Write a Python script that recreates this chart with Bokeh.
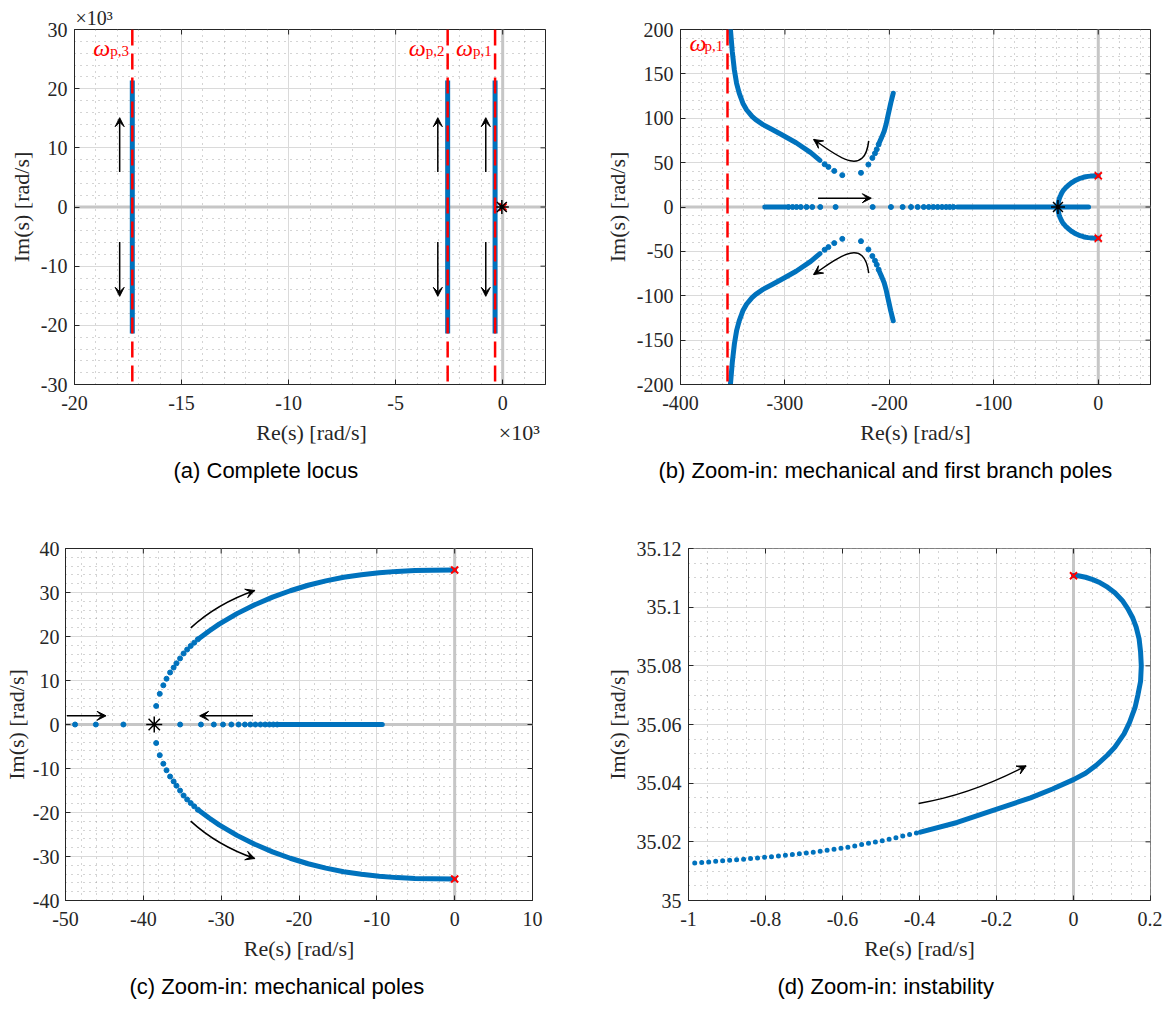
import numpy as np
from bokeh.plotting import figure
from bokeh.layouts import column, row
from bokeh.models import (LinearAxis, SingleIntervalTicker, Grid, Span, Label, Arrow, VeeHead,
                          CustomJSTickFormatter, Range1d, Title)
from bokeh.embed import file_html
from bokeh.resources import INLINE

# ---------------- data ----------------
# (a) complete locus, values in 10^3 rad/s
a_branch_re = [-17.30, -2.57, -0.355]
a_branch_im_top = [21.4, 21.4, 21.4]
a_branch_im_bot = [-21.4, -21.4, -21.4]
a_branch_names = ["p,3", "p,2", "p,1"]
a_arrow_re = [-17.89, -3.03, -0.79]
a_arrow_im_tail = [5.9, 5.9, 5.9]
a_arrow_im_head = [15.1, 15.1, 15.1]
a_zero_re = [-0.0386]
a_zero_im = [0.0]
a_pole_re = [0.0, 0.0]
a_pole_im = [0.03511, -0.03511]

# (b) first branch poles, rad/s
b_wp1_re = -355.0
b_left_solid_re = [-352.2, -350.4, -348.4, -346.3, -343.8, -340.3, -336.8, -331.5, -328.0, -321.0,
                   -312.2, -303.4, -289.3, -275.3, -266.5]
b_left_solid_im = [200.0, 175.0, 154.2, 139.4, 128.2, 117.0, 109.6, 102.1, 98.4, 92.8,
                   87.3, 81.7, 72.4, 61.2, 52.5]
b_left_dots_re = [-262.0, -258.4, -252.8, -245.1]
b_left_dots_im = [48.2, 45.2, 40.7, 35.9]
b_right_dots_re = [-227.2, -220.1, -216.3, -213.8, -212.1, -210.3]
b_right_dots_im = [38.5, 47.8, 55.3, 60.5, 65.0, 70.5]
b_right_solid_re = [-209.5, -207.2, -205.0, -203.2, -201.5, -198.7, -196.3]
b_right_solid_im = [73.0, 79.0, 85.4, 93.0, 102.1, 117.0, 128.2]
b_real_dense1 = [-319.3, -299.1]
b_real_dots = [-296.6, -292.7, -288.9, -284.8, -279.3, -273.9, -266.2, -251.5, -216.0, -198.5,
               -187.3, -179.3, -172.9, -167.1, -162.3, -157.9, -153.7, -149.6, -145.7, -142.2, -138.7]
b_real_dense2 = [-135.0, -9.3]

# mechanical poles (used in b, c)
star_re = -38.6
pole_re = 0.0
pole_im = 35.11
c_real_left_dots = [-48.77, -46.1, -42.56]
c_real_right_dots = [-35.27, -32.6, -30.94, -29.76, -28.69, -27.76, -26.95, -26.25, -25.6,
                     -24.95, -24.35, -23.8, -23.3, -22.8]
c_real_right_solid = [-22.8, -9.3]
mech_dots_re = [-38.35, -37.89, -37.43, -37.02, -36.56, -36.11, -35.74, -35.28, -34.83, -34.37,
                -33.91, -33.46, -33.0]
mech_dots_im = [4.21, 6.97, 8.91, 10.40, 11.82, 12.93, 13.90, 15.02, 16.14, 17.04, 17.86, 18.60, 19.35]
mech_curve_re = [-32.8, -31.5, -30.26, -27.97, -25.69, -23.4, -21.12, -18.83, -16.55, -14.26,
                 -11.98, -9.7, -7.41, -5.1, -2.84, 0.0]
mech_curve_im = [19.6, 21.3, 22.8, 25.2, 27.2, 28.95, 30.4, 31.65, 32.65, 33.45,
                 34.05, 34.5, 34.8, 35.0, 35.08, 35.11]

# (d) instability
d_dot_re = [-0.9838, -0.8742, -0.7789, -0.6836, -0.5883, -0.4930, -0.3976]
d_dot_im = [35.0128, 35.0139, 35.0150, 35.0163, 35.0181, 35.0205, 35.0233]
d_curve_re = [-0.3976, -0.3023, -0.2070, -0.1117, -0.0545, 0.0, 0.0313, 0.0599, 0.0884, 0.1075,
              0.1313, 0.1456, 0.1599, 0.1675, 0.1742, 0.1761, 0.1742, 0.1704, 0.1628, 0.1533,
              0.1409, 0.1266, 0.1075, 0.0884, 0.0694, 0.0503, 0.0313, 0.0122, 0.0]
d_curve_im = [35.0233, 35.0266, 35.0308, 35.0350, 35.0380, 35.0412, 35.0434, 35.0462, 35.0496, 35.0523,
              35.0568, 35.0607, 35.0658, 35.0702, 35.0747, 35.0800, 35.0848, 35.0892, 35.0932, 35.0965,
              35.0995, 35.1023, 35.1049, 35.1068, 35.1083, 35.1094, 35.1102, 35.1107, 35.1108]
d_pole_re = [0.0]
d_pole_im = [35.1107]

# arrows (tail, control points, head)
b_arrow_straight = (-268.3, 9.9, -217.3, 9.9)
b_arrow_curve = (-219.8, 74.6, -224.0, 31.0, -252.5, 59.8, -272.5, 76.1)
c_arrow_straight = [(-49.82, 1.97, -44.79, 1.97), (-25.92, 1.97, -32.77, 1.97)]
c_arrow_curve = (-33.91, 21.96, -30.5, 27.5, -25.69, 30.46)
d_arrow_curve = (-0.4024, 35.0331, -0.2657, 35.0361, -0.1231, 35.0459)

captions = ["(a) Complete locus", "(b) Zoom-in: mechanical and first branch poles",
            "(c) Zoom-in: mechanical poles", "(d) Zoom-in: instability"]
x_label = "Re(s) [rad/s]"
y_label = "Im(s) [rad/s]"
scale_label = "\u00d710\u00b3"

# ---------------- style ----------------
BLUE = "#0072BD"
RED = "#FF0000"
AX = "#262626"
SERIF = "Liberation Serif"
SANS = "Liberation Sans"
TICK_FS = "20px"
LAB_FS = "22px"
CAP_FS = "22px"
EM = "\u2003"


def trim_fmt():
    return CustomJSTickFormatter(code=r"""
if (Math.abs(tick) < 1e-9) { return "0"; }
return tick.toFixed(2).replace(/\.?0+$/, "");
""")


def tick_values(lo, hi, step):
    k0 = int(np.ceil(lo / step - 1e-9))
    k1 = int(np.floor(hi / step + 1e-9))
    return [k * step for k in range(k0, k1 + 1)]


def base_fig(width, height, borders, xr, yr, xint, xmin, yint, ymin, xlab=x_label,
             ylab_std=(7, 4)):
    L, R, T, B = borders
    p = figure(width=width, height=height, x_range=Range1d(*xr), y_range=Range1d(*yr),
               x_axis_type=None, y_axis_type=None, output_backend="svg", toolbar_location=None,
               title=None, min_border_left=L, min_border_right=R, min_border_top=T,
               min_border_bottom=B)
    p.outline_line_color = AX
    p.outline_line_width = 1
    p.background_fill_color = "white"
    p.border_fill_color = "white"
    xt = SingleIntervalTicker(interval=xint, num_minor_ticks=xmin)
    yt = SingleIntervalTicker(interval=yint, num_minor_ticks=ymin)
    for dim, tk in ((0, xt), (1, yt)):
        p.add_layout(Grid(dimension=dim, ticker=tk, grid_line_color="#dadada", grid_line_width=1,
                          minor_grid_line_color="#999999", minor_grid_line_dash="1 5",
                          minor_grid_line_alpha=0.85))
    for place, tk, lab in (("below", xt, xlab), ("left", yt, y_label)):
        ax = LinearAxis(ticker=tk, formatter=trim_fmt())
        ax.major_tick_in = 5
        ax.major_tick_out = 0
        ax.minor_tick_in = 0
        ax.minor_tick_out = 0
        ax.axis_line_color = AX
        ax.major_tick_line_color = AX
        ax.axis_label = lab
        ax.major_label_text_font = SERIF
        ax.major_label_text_font_size = TICK_FS
        ax.major_label_text_color = AX
        ax.axis_label_text_font = SERIF
        ax.axis_label_text_font_size = LAB_FS
        ax.axis_label_text_font_style = "normal"
        ax.axis_label_text_color = AX
        if place == "below":
            ax.major_label_standoff = 11
            ax.axis_label_standoff = 7
        else:
            ax.major_label_standoff = ylab_std[0]
            ax.axis_label_standoff = ylab_std[1]
        p.add_layout(ax, place)
    for dim in ("height", "width"):
        p.add_layout(Span(location=0, dimension=dim, line_color="#c6c6c6", line_width=3,
                          level="underlay"))
    # inward tick marks on the top and right edges of the box (clipped to the frame)
    xtv = tick_values(xr[0], xr[1], xint)
    ytv = tick_values(yr[0], yr[1], yint)
    p.scatter(xtv, [yr[1]] * len(xtv), marker="dash", angle=np.pi / 2, size=10,
              line_color=AX, line_width=1)
    p.scatter([xr[1]] * len(ytv), ytv, marker="dash", size=10, line_color=AX, line_width=1)
    return p


def arrow(p, xs, ys, xe, ye):
    p.add_layout(Arrow(end=VeeHead(size=9, fill_color="black", line_color="black", line_width=1),
                       x_start=xs, y_start=ys, x_end=xe, y_end=ye,
                       line_color="black", line_width=1.5))


def quad_arrow(p, c):
    x0, y0, cx, cy, x1, y1 = c
    p.quadratic(x0=[x0], y0=[y0], x1=[x1], y1=[y1], cx=[cx], cy=[cy], line_color="black", line_width=1.5)
    arrow(p, x1 - 0.02 * (x1 - cx), y1 - 0.02 * (y1 - cy), x1, y1)


def cubic_arrow(p, c):
    x0, y0, c0x, c0y, c1x, c1y, x1, y1 = c
    p.bezier(x0=[x0], y0=[y0], x1=[x1], y1=[y1], cx0=[c0x], cy0=[c0y], cx1=[c1x], cy1=[c1y],
             line_color="black", line_width=1.5)
    arrow(p, x1 - 0.02 * (x1 - c1x), y1 - 0.02 * (y1 - c1y), x1, y1)


def caption(p, text, offset, standoff):
    p.add_layout(Title(text=text, align="left", offset=offset, standoff=standoff,
                       vertical_align="top", text_font=SANS, text_font_size=CAP_FS,
                       text_font_style="normal", text_color="black"), "below")


def omega(p, x, ytop, name, dx_w, dx_s, dy_w, dy_s):
    p.add_layout(Label(x=x, y=ytop, x_offset=dx_w, y_offset=dy_w, text="\u03c9", text_font=SERIF,
                       text_font_style="italic", text_font_size="24px", text_color=RED,
                       text_baseline="alphabetic"))
    p.add_layout(Label(x=x, y=ytop, x_offset=dx_s, y_offset=dy_s, text=name, text_font=SERIF,
                       text_font_size="15px", text_color=RED, text_baseline="alphabetic"))


def mirror(v):
    return [-t for t in v]


def poles_and_zero(p, zr, zi, pr, pi_, star_size=14):
    p.scatter(pr, pi_, marker="x", size=10, line_color=RED, line_width=2)
    p.scatter(zr, zi, marker="asterisk", size=star_size, line_color="black", line_width=1.5)


# ---------------- (a) ----------------
a_xlab = EM * 8 + x_label + EM * 6 + scale_label
pa = base_fig(580, 520, (74, 35, 29, 136), (-20, 2), (-30, 30), 5, 5, 10, 5, xlab=a_xlab)
pa.add_layout(Title(text=scale_label, align="left", offset=1, standoff=2, text_font=SERIF,
                    text_font_size=TICK_FS, text_font_style="normal", text_color=AX), "above")
pa.segment(x0=a_branch_re, y0=a_branch_im_bot, x1=a_branch_re, y1=a_branch_im_top,
           line_color=BLUE, line_width=5)
for xr_, nm in zip(a_branch_re, a_branch_names):
    pa.add_layout(Span(location=xr_, dimension="height", line_color=RED, line_width=2.5,
                       line_dash="16 8"))
    omega(pa, xr_, 30, nm, -39, -22, -18, -21)
for xr_, t, h in zip(a_arrow_re, a_arrow_im_tail, a_arrow_im_head):
    arrow(pa, xr_, t, xr_, h)
    arrow(pa, xr_, -t, xr_, -h)
poles_and_zero(pa, a_zero_re, a_zero_im, a_pole_re, a_pole_im)
caption(pa, captions[0], 99, 20)

# ---------------- (b) ----------------
pb = base_fig(582, 520, (100, 12, 26, 136), (-400, 50), (-200, 200), 100, 5, 50, 5)
pb.add_layout(Span(location=b_wp1_re, dimension="height", line_color=RED, line_width=2.5,
                   line_dash="16 8"))
omega(pb, b_wp1_re, 200, "p,1", -38, -23, -13, -16)
for sgn in (1, -1):
    f = (lambda v: v) if sgn == 1 else mirror
    pb.line(b_left_solid_re, f(b_left_solid_im), line_color=BLUE, line_width=5, line_cap="round",
            line_join="round")
    pb.line(b_right_solid_re, f(b_right_solid_im), line_color=BLUE, line_width=5, line_cap="round",
            line_join="round")
    pb.scatter(b_left_dots_re + b_right_dots_re, f(b_left_dots_im + b_right_dots_im), size=5,
               color=BLUE)
    pb.line([star_re] + mech_dots_re + mech_curve_re, f([0.0] + mech_dots_im + mech_curve_im),
            line_color=BLUE, line_width=5, line_cap="round", line_join="round")
pb.line(b_real_dense1, [0, 0], line_color=BLUE, line_width=5, line_cap="round")
pb.line(b_real_dense2, [0, 0], line_color=BLUE, line_width=5, line_cap="round")
pb.scatter(b_real_dots, [0] * len(b_real_dots), size=5, color=BLUE)
poles_and_zero(pb, [star_re], [0.0], [pole_re, pole_re], [pole_im, -pole_im])
arrow(pb, *b_arrow_straight)
cubic_arrow(pb, b_arrow_curve)
bc = b_arrow_curve
cubic_arrow(pb, (bc[0], -bc[1], bc[2], -bc[3], bc[4], -bc[5], bc[6], -bc[7]))
caption(pb, captions[1], -22, 20)

# ---------------- (c) ----------------
pc = base_fig(580, 490, (60, 48, 28, 104), (-50, 10), (-40, 40), 10, 5, 10, 5, ylab_std=(6, 1))
for sgn in (1, -1):
    f = (lambda v: v) if sgn == 1 else mirror
    pc.scatter(mech_dots_re, f(mech_dots_im), size=5, color=BLUE)
    pc.line(mech_curve_re, f(mech_curve_im), line_color=BLUE, line_width=5, line_cap="round",
            line_join="round")
pc.scatter(c_real_left_dots + c_real_right_dots, [0] * (len(c_real_left_dots) + len(c_real_right_dots)),
           size=5, color=BLUE)
pc.line(c_real_right_solid, [0, 0], line_color=BLUE, line_width=5, line_cap="round")
poles_and_zero(pc, [star_re], [0.0], [pole_re, pole_re], [pole_im, -pole_im], star_size=16)
for a in c_arrow_straight:
    arrow(pc, *a)
quad_arrow(pc, c_arrow_curve)
cc = c_arrow_curve
quad_arrow(pc, (cc[0], -cc[1], cc[2], -cc[3], cc[4], -cc[5]))
caption(pc, captions[2], 64, 20)

# ---------------- (d) ----------------
pd_ = base_fig(582, 490, (108, 12, 28, 104), (-1, 0.2000001), (35, 35.1200001), 0.2, 4, 0.02, 4)
pd_.line(d_dot_re, d_dot_im, line_color=BLUE, line_width=5, line_dash="0 7", line_cap="round")
pd_.line(d_curve_re, d_curve_im, line_color=BLUE, line_width=5, line_cap="round", line_join="round")
pd_.scatter(d_pole_re, d_pole_im, marker="x", size=10, line_color=RED, line_width=2)
quad_arrow(pd_, d_arrow_curve)
caption(pd_, captions[3], 89, 20)

layout = column(row(pa, pb), row(pc, pd_))
open("out.html", "w").write(file_html(layout, INLINE))
